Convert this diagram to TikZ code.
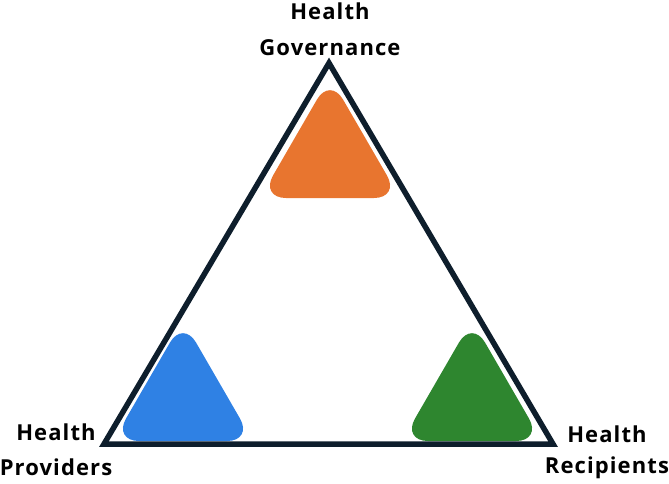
\documentclass[tikz,border=0pt]{standalone}
\usepackage{fontspec}
\setmainfont{Open Sans}
\definecolor{navy}{HTML}{0E1E2C}
\definecolor{orng}{HTML}{E8752F}
\definecolor{blu}{HTML}{2F81E4}
\definecolor{grn}{HTML}{2E862F}
\begin{document}
\begin{tikzpicture}[x=1pt,y=-1pt,
  lbl/.style={font=\fontsize{22}{36}\selectfont\bfseries\addfontfeatures{LetterSpace=5}, text=black, inner sep=0pt, align=center},
  rtri/.style={fill=#1, draw=none, rounded corners=26pt}]
\useasboundingbox (0,0) rectangle (669,483);
\coordinate (A) at (329,63);
\coordinate (B) at (104,444);
\coordinate (C) at (553,444);
% orange
\fill[rtri=orng] (330,77) -- (400,198) -- (260,198) -- cycle;
% blue
\fill[rtri=blu] (183,320) -- (253,441) -- (113,441) -- cycle;
% green
\fill[rtri=grn] (472,320) -- (542,441) -- (402,441) -- cycle;
\draw[navy, line width=5.5pt, line join=miter] (A) -- (B) -- (C) -- cycle;
\node[lbl, anchor=base] (gov1) at (330,19) {Health};
\node[lbl, anchor=base] (gov2) at (330,55) {Governance};
\node[lbl, anchor=base] (prov1) at (56,440) {Health};
\node[lbl, anchor=base] (prov2) at (56,475) {Providers};
\node[lbl, anchor=base] (rec1) at (607,442) {Health};
\node[lbl, anchor=base] (rec2) at (607,473) {Recipients};
\end{tikzpicture}
\end{document}
